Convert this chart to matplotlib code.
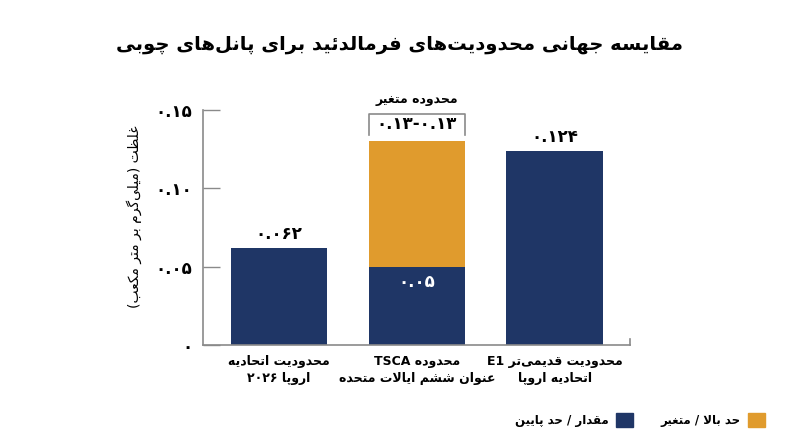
import re
import matplotlib
matplotlib.use('Agg')
import matplotlib.pyplot as plt
from matplotlib.patches import Patch
from matplotlib.lines import Line2D

# data
categories = ['محدودیت اتحادیه\nاروپا ۲۰۲۶', 'محدوده TSCA\nعنوان ششم ایالات متحده', 'محدودیت قدیمی\u200cتر E1\nاتحادیه اروپا']
base_values = [0.062, 0.05, 0.124]
upper_values = [0.0, 0.08, 0.0]
base_labels = ['۰.۰۶۲', '۰.۰۵', '۰.۱۲۴']
range_label = '۰.۱۳-۰.۱۳'
yticks = [0, 0.05, 0.10, 0.15]
ytick_labels = ['۰', '۰.۰۵', '۰.۱۰', '۰.۱۵']

title = 'مقایسه جهانی محدودیت\u200cهای فرمالدئید برای پانل\u200cهای چوبی'
ylabel = 'غلظت (میلی\u200cگرم بر متر مکعب)'
range_title = 'محدوده متغیر'
legend_labels = ['مقدار / حد پایین', 'حد بالا / متغیر']

NAVY = '#1f3666'
ORANGE = '#e09b2d'
GREY = '#8a8a8a'

# arabic shaping (matplotlib has no text shaping) - iso, fin, ini, med
FORMS = {
    'ا': ('\uFE8D', '\uFE8E', None, None), 'آ': ('\uFE81', '\uFE82', None, None),
    'ب': ('\uFE8F', '\uFE90', '\uFE91', '\uFE92'), 'پ': ('\uFB56', '\uFB57', '\uFB58', '\uFB59'),
    'ت': ('\uFE95', '\uFE96', '\uFE97', '\uFE98'), 'ث': ('\uFE99', '\uFE9A', '\uFE9B', '\uFE9C'),
    'ج': ('\uFE9D', '\uFE9E', '\uFE9F', '\uFEA0'), 'چ': ('\uFB7A', '\uFB7B', '\uFB7C', '\uFB7D'),
    'ح': ('\uFEA1', '\uFEA2', '\uFEA3', '\uFEA4'), 'خ': ('\uFEA5', '\uFEA6', '\uFEA7', '\uFEA8'),
    'د': ('\uFEA9', '\uFEAA', None, None), 'ذ': ('\uFEAB', '\uFEAC', None, None),
    'ر': ('\uFEAD', '\uFEAE', None, None), 'ز': ('\uFEAF', '\uFEB0', None, None),
    'ژ': ('\uFB8A', '\uFB8B', None, None),
    'س': ('\uFEB1', '\uFEB2', '\uFEB3', '\uFEB4'), 'ش': ('\uFEB5', '\uFEB6', '\uFEB7', '\uFEB8'),
    'ص': ('\uFEB9', '\uFEBA', '\uFEBB', '\uFEBC'), 'ض': ('\uFEBD', '\uFEBE', '\uFEBF', '\uFEC0'),
    'ط': ('\uFEC1', '\uFEC2', '\uFEC3', '\uFEC4'), 'ظ': ('\uFEC5', '\uFEC6', '\uFEC7', '\uFEC8'),
    'ع': ('\uFEC9', '\uFECA', '\uFECB', '\uFECC'), 'غ': ('\uFECD', '\uFECE', '\uFECF', '\uFED0'),
    'ف': ('\uFED1', '\uFED2', '\uFED3', '\uFED4'), 'ق': ('\uFED5', '\uFED6', '\uFED7', '\uFED8'),
    'ک': ('\uFB8E', '\uFB8F', '\uFB90', '\uFB91'), 'گ': ('\uFB92', '\uFB93', '\uFB94', '\uFB95'),
    'ل': ('\uFEDD', '\uFEDE', '\uFEDF', '\uFEE0'), 'م': ('\uFEE1', '\uFEE2', '\uFEE3', '\uFEE4'),
    'ن': ('\uFEE5', '\uFEE6', '\uFEE7', '\uFEE8'), 'ه': ('\uFEE9', '\uFEEA', '\uFEEB', '\uFEEC'),
    'و': ('\uFEED', '\uFEEE', None, None), 'ی': ('\uFBFC', '\uFBFD', '\uFBFE', '\uFBFF'),
    'ئ': ('\uFE89', '\uFE8A', '\uFE8B', '\uFE8C'),
}
MIRROR = str.maketrans('()', ')(')
LTR = r'[A-Za-z0-9۰-۹.\-]+'


def shape(s):
    res = []
    i = 0
    n = len(s)
    while i < n:
        c = s[i]
        if c not in FORMS:
            res.append(c)
            i += 1
            continue
        prev = s[i - 1] if i > 0 else ''
        lp = prev in FORMS and FORMS[prev][2] is not None
        if c == 'ل' and i + 1 < n and s[i + 1] == 'ا':
            res.append('\uFEFC' if lp else '\uFEFB')
            i += 2
            continue
        nxt = s[i + 1] if i + 1 < n else ''
        iso, fin, ini, med = FORMS[c]
        ln = ini is not None and nxt in FORMS
        if lp and ln:
            res.append(med)
        elif lp:
            res.append(fin)
        elif ln:
            res.append(ini)
        else:
            res.append(iso)
        i += 1
    return ''.join(res).replace('\u200c', '')


def rtl(text):
    lines = []
    for line in text.split('\n'):
        s = shape(line)
        parts = re.findall(LTR + '|' + r'[^A-Za-z0-9۰-۹.\-]+', s)
        out = []
        for p in reversed(parts):
            if re.fullmatch(LTR, p):
                out.append(p)
            else:
                out.append(p[::-1].translate(MIRROR))
        lines.append(''.join(out))
    return '\n'.join(lines)


plt.rcParams['font.family'] = ['DejaVu Sans']
plt.rcParams['font.weight'] = 'bold'

fig = plt.figure(figsize=(8, 4.47), dpi=100)
ax = fig.add_axes([0.254, 0.228, 0.534, 0.526])

x = list(range(len(categories)))
ax.bar(x, base_values, width=0.7, color=NAVY, zorder=2)
ax.bar(x, upper_values, width=0.7, bottom=base_values, color=ORANGE, zorder=2)

ax.set_xlim(-0.55, 2.55)
ax.set_ylim(0, 0.15)

for s in ['top', 'right']:
    ax.spines[s].set_visible(False)
for s in ['left', 'bottom']:
    ax.spines[s].set_color(GREY)
    ax.spines[s].set_linewidth(1.2)
ax.add_line(Line2D([1, 1], [0, 0.025], transform=ax.transAxes, color=GREY, lw=1.2, clip_on=False))

ax.set_yticks(yticks, ytick_labels)
ax.tick_params(axis='y', direction='in', length=12, width=1, color=GREY, pad=8, labelsize=12)
ax.set_xticks(x, [rtl(c) for c in categories])
ax.tick_params(axis='x', length=0, pad=7, labelsize=9)
for lab in ax.get_xticklabels():
    lab.set_linespacing(1.45)
ax.set_ylabel(rtl(ylabel), fontsize=10)
ax.yaxis.set_label_coords(-0.143, 0.545)

# value labels
ax.text(x[0], base_values[0] + 0.003, base_labels[0], ha='center', va='bottom', fontsize=12)
ax.text(x[1], base_values[1] - 0.004, base_labels[1], ha='center', va='top', fontsize=12, color='white')
ax.text(x[2], base_values[2] + 0.003, base_labels[2], ha='center', va='bottom', fontsize=12)

# range bracket on middle bar
top = base_values[1] + upper_values[1]
bx0, bx1 = x[1] - 0.35, x[1] + 0.35
by0, by1 = top + 0.004, top + 0.0175
ax.plot([bx0, bx0, bx1, bx1], [by0, by1, by1, by0], color=GREY, lw=1.2, clip_on=False)
ax.text(x[1], (by0 + by1) / 2, range_label, ha='center', va='center', fontsize=12, clip_on=False)
ax.text(x[1], by1 + 0.005, rtl(range_title), ha='center', va='bottom', fontsize=9, clip_on=False)

fig.text(0.5, 0.9, rtl(title), ha='center', va='center', fontsize=14)

handles = [Patch(color=NAVY), Patch(color=ORANGE)]
fig.legend(handles, [rtl(l) for l in legend_labels], loc='center right', bbox_to_anchor=(0.956, 0.06),
           ncol=2, frameon=False, markerfirst=False, fontsize=8.5, handlelength=1.45, handleheight=1.45,
           handletextpad=0.6, columnspacing=2.3, borderpad=0, borderaxespad=0)

fig.savefig('out.png', dpi=100)
